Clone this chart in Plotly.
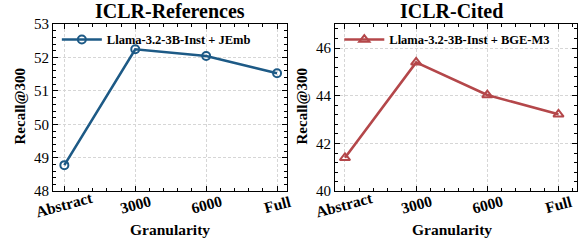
import plotly.graph_objects as go

categories = ["Abstract", "3000", "6000", "Full"]
refs_values = [48.78, 52.25, 52.05, 51.53]
cited_values = [41.40, 45.40, 44.03, 43.22]
refs_label = "Llama-3.2-3B-Inst + JEmb"
cited_label = "Llama-3.2-3B-Inst + BGE-M3"
titles = ["ICLR-References", "ICLR-Cited"]

blue = "#1d5a86"
red = "#b4474a"
FONT = "Liberation Serif, Times New Roman, serif"

xpos = list(range(len(categories)))

fig = go.Figure()
fig.add_trace(go.Scatter(
    x=xpos, y=refs_values, mode="lines+markers", name=refs_label, showlegend=True,
    line=dict(color=blue, width=2.6),
    marker=dict(symbol="circle-open", size=8, color=blue, line=dict(width=2, color=blue)),
    xaxis="x", yaxis="y", legend="legend"))
fig.add_trace(go.Scatter(
    x=xpos, y=cited_values, mode="lines+markers", name=cited_label, showlegend=True,
    line=dict(color=red, width=2.6),
    marker=dict(symbol="triangle-up-open", size=9, color=red, line=dict(width=2, color=red)),
    xaxis="x2", yaxis="y2", legend="legend2"))

common_x = dict(
    tickmode="array", tickvals=xpos, ticktext=categories, showticklabels=False,
    showline=True, mirror="allticks", linecolor="black", linewidth=1.2,
    ticks="inside", ticklen=5, tickcolor="black",
    minor=dict(ticks="inside", ticklen=3, dtick=0.2, tick0=0, tickcolor="black", showgrid=False),
    showgrid=True, gridcolor="#d6d6d6", griddash="3px,2px", gridwidth=0.8,
    zeroline=False, automargin=False,
)
common_y = dict(
    tickfont=dict(family=FONT, size=15, color="black"),
    showline=True, mirror="allticks", linecolor="black", linewidth=1.2,
    ticks="inside", ticklen=5, tickcolor="black",
    showgrid=True, gridcolor="#d6d6d6", griddash="3px,2px", gridwidth=0.8,
    zeroline=False, automargin=False,
)

legend_font = dict(family=FONT, size=12.5, color="black", weight="bold")

def ann(text, x, y, size, angle=0, xref="paper"):
    return dict(text="<b>%s</b>" % text, x=x, y=y, xref=xref, yref="paper",
                xanchor="center", yanchor="middle", showarrow=False, textangle=angle,
                font=dict(family=FONT, size=size, color="black"))

annotations = [
    ann(titles[0], 0.293, 0.955, 20),
    ann(titles[1], 0.779, 0.955, 20),
    ann("Granularity", 0.293, 0.05, 15.5),
    ann("Granularity", 0.779, 0.05, 15.5),
    ann("Recall@300", 0.0345, 0.56, 15, -90),
    ann("Recall@300", 0.5207, 0.56, 15, -90),
]
# category tick labels, centred under their ticks and rotated
for xr in ("x", "x2"):
    for i, c in zip(xpos, categories):
        annotations.append(ann(c, i, 0.155, 15.5, -15, xref=xr))

fig.update_layout(
    width=580, height=242,
    margin=dict(l=0, r=0, t=0, b=0, autoexpand=False),
    paper_bgcolor="white", plot_bgcolor="white",
    font=dict(family=FONT, color="black"),
    showlegend=True,
    xaxis=dict(common_x, domain=[0.0914, 0.4948], range=[-0.16, 3.14], anchor="y"),
    yaxis=dict(common_y, domain=[0.21, 0.90], range=[48, 53], dtick=1,
               minor=dict(ticks="inside", ticklen=3, dtick=0.2, tickcolor="black", showgrid=False),
               anchor="x"),
    xaxis2=dict(common_x, domain=[0.5776, 0.9948], range=[-0.14, 3.26], anchor="y2"),
    yaxis2=dict(common_y, domain=[0.21, 0.90], range=[40, 47], tickvals=[40, 42, 44, 46],
                minor=dict(ticks="inside", ticklen=3, dtick=0.4, tick0=40, tickcolor="black", showgrid=False),
                anchor="x2"),
    legend=dict(x=0.098, y=0.835, xanchor="left", yanchor="middle",
                bgcolor="rgba(255,255,255,0)", borderwidth=0,
                font=legend_font, itemwidth=40),
    legend2=dict(x=0.585, y=0.835, xanchor="left", yanchor="middle",
                 bgcolor="rgba(255,255,255,0)", borderwidth=0,
                 font=legend_font, itemwidth=40),
    annotations=annotations,
)

fig.write_html("out.html", config={"displayModeBar": False},
               post_script="document.body.style.margin='0';")
